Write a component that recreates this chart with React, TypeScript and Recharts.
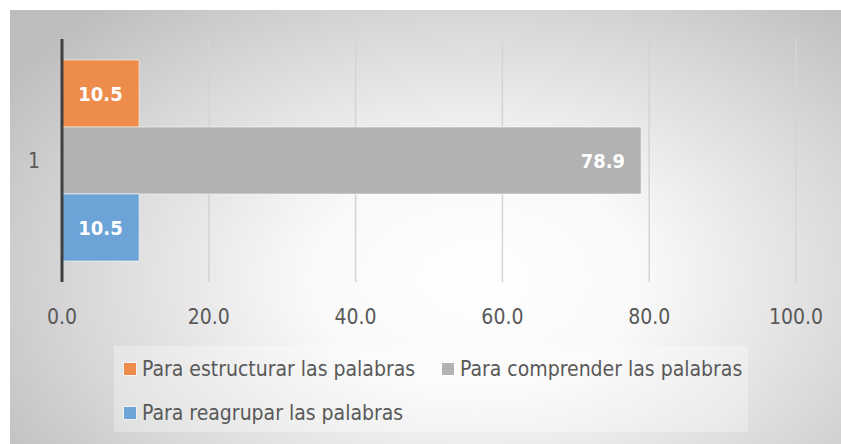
import { BarChart, Bar, XAxis, YAxis, CartesianGrid, LabelList } from "recharts";

const categories = ["1"];
const estructurar = [10.5];
const comprender = [78.9];
const reagrupar = [10.5];
const xTicks = [0, 20, 40, 60, 80, 100];

const SERIES = [
  { key: "estructurar", name: "Para estructurar las palabras", color: "#ED8C4B" },
  { key: "comprender", name: "Para comprender las palabras", color: "#B2B2B2" },
  { key: "reagrupar", name: "Para reagrupar las palabras", color: "#6CA4D8" },
];

const data = categories.map((name, i) => ({
  name,
  estructurar: estructurar[i],
  comprender: comprender[i],
  reagrupar: reagrupar[i],
}));

const FONT = "'Liberation Sans Narrow', 'DejaVu Sans Condensed', 'Open Sans', sans-serif";
const fmt = (v: any) => Number(v).toFixed(1);

function LegendItem({ color, name, width }: { color: string; name: string; width?: number }) {
  return (
    <span style={{ display: "inline-flex", alignItems: "center", width }}>
      <span
        style={{
          width: 12,
          height: 12,
          background: color,
          marginRight: 6,
          display: "inline-block",
          boxShadow: "0 0 0 1px rgba(255,255,255,0.5)",
        }}
      />
      {name}
    </span>
  );
}

export default function App() {
  return (
    <div style={{ position: "absolute", left: 0, top: 0, width: 841, height: 444, background: "#fff", fontFamily: FONT }}>
      <div
        style={{
          position: "absolute",
          left: 10,
          top: 10,
          width: 831,
          height: 434,
          background:
            "radial-gradient(ellipse 68% 85% at 56% 62%, #ffffff 0%, #f9f9f9 30%, #d8d8d8 70%, #bdbdbd 100%)",
        }}
      />
      <div style={{ position: "absolute", left: 0, top: 0 }}>
        <BarChart
          width={841}
          height={444}
          data={data}
          layout="vertical"
          margin={{ top: 39, right: 45, bottom: 112, left: 22 }}
          barCategoryGap={21}
          barGap={0}
        >
          <CartesianGrid horizontal={false} stroke="#d4d4d4" strokeWidth={1.5} />
          <XAxis
            type="number"
            domain={[0, 100]}
            ticks={xTicks}
            tickFormatter={fmt}
            axisLine={false}
            tickLine={false}
            height={50}
            tickMargin={21}
            tick={{ fill: "#595959", fontSize: 21, fontFamily: FONT }}
          />
          <YAxis
            type="category"
            dataKey="name"
            width={40}
            axisLine={{ stroke: "#404040", strokeWidth: 3 }}
            tickLine={false}
            tickMargin={16}
            tick={{ fill: "#595959", fontSize: 21, fontFamily: FONT }}
          />
          {SERIES.map((s) => (
            <Bar
              key={s.key}
              dataKey={s.key}
              name={s.name}
              fill={s.color}
              stroke="rgba(255,255,255,0.55)"
              strokeWidth={1}
              isAnimationActive={false}
            >
              <LabelList
                dataKey={s.key}
                position={s.key === "comprender" ? "insideRight" : "center"}
                offset={16}
                formatter={fmt}
                fill="#ffffff"
                fontSize={20}
                fontWeight="bold"
                fontFamily={FONT}
              />
            </Bar>
          ))}
        </BarChart>
      </div>
      <div
        style={{
          position: "absolute",
          left: 114,
          top: 346,
          width: 634,
          height: 86,
          background: "rgba(255,255,255,0.3)",
          boxSizing: "border-box",
          fontSize: 21,
          color: "#595959",
        }}
      >
        <div style={{ position: "absolute", left: 10, top: 10, height: 26, display: "flex", whiteSpace: "nowrap", alignItems: "center" }}>
          <LegendItem color={SERIES[0].color} name={SERIES[0].name} width={318} />
          <LegendItem color={SERIES[1].color} name={SERIES[1].name} />
        </div>
        <div style={{ position: "absolute", left: 10, top: 54, height: 26, display: "flex", whiteSpace: "nowrap", alignItems: "center" }}>
          <LegendItem color={SERIES[2].color} name={SERIES[2].name} />
        </div>
      </div>
    </div>
  );
}
